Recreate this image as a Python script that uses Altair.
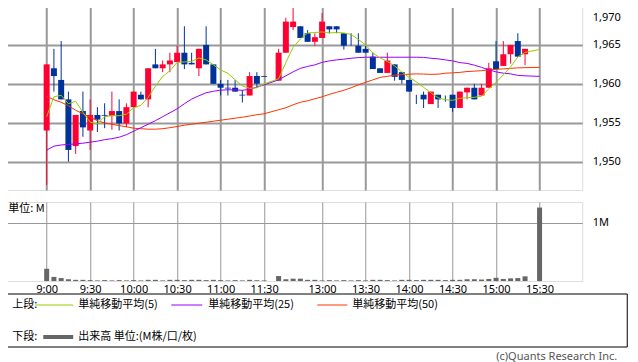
import altair as alt
import pandas as pd

# ---------------- data ----------------
times = [
    "9:00", "9:05", "9:10", "9:15", "9:20", "9:25", "9:30", "9:35", "9:40", "9:45",
    "9:50", "9:55", "10:00", "10:05", "10:10", "10:15", "10:20", "10:25", "10:30", "10:35",
    "10:40", "10:45", "10:50", "10:55", "11:00", "11:05", "11:10", "11:15", "11:20", "11:25",
    "11:30",
    "12:30", "12:35", "12:40", "12:45", "12:50", "12:55", "13:00", "13:05", "13:10", "13:15",
    "13:20", "13:25", "13:30", "13:35", "13:40", "13:45", "13:50", "13:55", "14:00", "14:05",
    "14:10", "14:15", "14:20", "14:25", "14:30", "14:35", "14:40", "14:45", "14:50", "14:55",
    "15:00", "15:05", "15:10", "15:15", "15:20", "15:30",
]
opens = [
    1954.0, 1962.0, 1960.5, 1958.0, 1952.0, 1956.5, 1954.0, 1956.0, 1956.0, 1955.9,
    1956.5, 1954.9, 1957.0, 1958.6, 1958.0, 1962.5, 1962.0, 1962.5, 1962.8, 1964.0,
    1962.7, 1962.0, 1965.0, 1962.5, 1960.0, 1959.5, 1959.5, 1958.6, 1958.5, 1961.0,
    1961.0,
    1960.4, 1964.0, 1967.3, 1967.4, 1966.5, 1965.4, 1965.9, 1967.4, 1967.4, 1966.5,
    1964.9, 1964.9, 1964.5, 1963.5, 1962.0, 1961.4, 1962.5, 1961.5, 1960.5, 1958.6,
    1958.6, 1957.4, 1958.6, 1958.2, 1958.6, 1956.9, 1958.9, 1959.5, 1958.5, 1959.5,
    1962.9, 1962.3, 1963.8, 1965.5, 1963.8, 1964.5,
]
highs = [
    1962.5, 1964.5, 1965.5, 1959.0, 1956.0, 1959.0, 1958.0, 1957.0, 1957.5, 1959.0,
    1958.0, 1957.5, 1959.0, 1959.0, 1962.0, 1964.5, 1963.0, 1964.0, 1964.9, 1967.4,
    1964.0, 1964.5, 1967.4, 1962.5, 1960.5, 1960.5, 1960.5, 1959.2, 1961.5, 1961.5,
    1961.0,
    1964.5, 1968.5, 1970.0, 1967.4, 1966.9, 1966.5, 1969.1, 1967.4, 1967.4, 1966.5,
    1966.5, 1966.5, 1964.9, 1964.0, 1962.0, 1964.0, 1962.5, 1961.5, 1960.5, 1958.6,
    1959.0, 1959.0, 1958.6, 1958.5, 1958.6, 1959.0, 1959.5, 1960.0, 1960.0, 1962.7,
    1965.5, 1965.5, 1965.0, 1966.5, 1964.5, 1964.5,
]
lows = [
    1947.0, 1959.0, 1958.0, 1950.0, 1951.0, 1953.2, 1951.5, 1953.8, 1954.3, 1954.1,
    1954.0, 1954.4, 1957.0, 1958.0, 1957.0, 1962.0, 1961.5, 1961.5, 1962.8, 1961.9,
    1962.5, 1961.0, 1962.5, 1960.0, 1958.5, 1958.5, 1959.0, 1957.6, 1958.5, 1959.5,
    1960.9,
    1960.4, 1964.0, 1966.9, 1965.9, 1965.4, 1964.9, 1965.9, 1966.5, 1966.5, 1964.4,
    1964.9, 1964.0, 1964.0, 1961.9, 1961.4, 1961.4, 1960.4, 1960.0, 1959.0, 1957.4,
    1956.9, 1957.4, 1956.9, 1957.7, 1956.4, 1956.9, 1958.0, 1958.0, 1958.5, 1959.5,
    1961.9, 1962.3, 1962.6, 1963.5, 1962.4, 1964.5,
]
closes = [
    1962.5, 1961.0, 1958.0, 1951.5, 1956.0, 1954.4, 1956.0, 1955.4, 1955.9, 1956.5,
    1954.9, 1957.0, 1959.0, 1958.0, 1962.0, 1962.0, 1962.5, 1963.0, 1964.0, 1962.5,
    1962.5, 1964.5, 1962.5, 1960.0, 1959.5, 1959.4, 1959.0, 1958.5, 1961.0, 1960.0,
    1960.9,
    1964.0, 1968.0, 1968.0, 1965.9, 1965.4, 1966.0, 1968.0, 1967.0, 1967.0, 1964.9,
    1964.9, 1964.0, 1964.0, 1961.9, 1961.4, 1963.0, 1960.9, 1960.5, 1959.0, 1958.6,
    1958.0, 1959.0, 1958.0, 1958.2, 1956.9, 1959.0, 1959.5, 1958.0, 1959.5, 1962.0,
    1961.9, 1963.8, 1965.0, 1963.5, 1964.5, 1964.5,
]
ma5 = [
    1955.77, 1958.33, 1958.53, 1957.44, 1957.76, 1956.35, 1955.06, 1954.87, 1955.77, 1955.90,
    1955.90, 1956.09, 1956.92, 1957.24, 1958.27, 1959.68, 1960.96, 1961.67, 1962.76, 1962.82,
    1962.88, 1963.33, 1963.08, 1962.44, 1961.79, 1961.35, 1960.51, 1959.74, 1959.42, 1959.49,
    1960.00,
    1960.64, 1962.76, 1964.68, 1965.77, 1966.54, 1966.60, 1966.67, 1966.54, 1966.60, 1966.54,
    1966.35, 1965.71, 1965.00, 1963.97, 1963.33, 1962.88, 1962.31, 1961.54, 1960.83, 1960.26,
    1959.55, 1958.85, 1958.21, 1957.95, 1957.88, 1958.14, 1958.21, 1958.27, 1958.40, 1959.36,
    1960.19, 1961.15, 1962.18, 1963.46, 1964.04, 1964.42,
]
ma25 = [
    1951.47, 1951.99, 1952.14, 1952.21, 1952.28, 1952.37, 1952.50, 1952.63, 1952.82, 1952.95,
    1953.14, 1953.46, 1953.91, 1954.36, 1954.81, 1955.26, 1955.77, 1956.28, 1956.79, 1957.44,
    1958.04, 1958.46, 1958.85, 1959.04, 1959.19, 1959.23, 1959.23, 1959.17, 1959.29, 1959.58,
    1959.87,
    1960.51, 1961.03, 1961.54, 1961.99, 1962.24, 1962.44, 1962.76, 1962.95, 1963.08, 1963.17,
    1963.29, 1963.37, 1963.42, 1963.42, 1963.42, 1963.42, 1963.42, 1963.42, 1963.42, 1963.42,
    1963.40, 1963.29, 1963.21, 1963.08, 1962.95, 1962.73, 1962.63, 1962.40, 1962.12, 1961.79,
    1961.54, 1961.37, 1961.28, 1961.09, 1961.03, 1960.96,
]
ma50 = [
    1958.40, 1957.95, 1957.63, 1957.18, 1956.60, 1956.15, 1955.71, 1955.26, 1954.96, 1954.81,
    1954.62, 1954.49, 1954.29, 1954.23, 1954.17, 1954.17, 1954.23, 1954.36, 1954.51, 1954.68,
    1954.81, 1954.94, 1955.06, 1955.19, 1955.32, 1955.45, 1955.58, 1955.71, 1955.86, 1956.03,
    1956.15,
    1956.67, 1956.92, 1957.31, 1957.63, 1957.82, 1958.08, 1958.33, 1958.65, 1958.91, 1959.17,
    1959.49, 1959.87, 1960.19, 1960.51, 1960.83, 1960.96, 1961.12, 1961.18, 1961.24, 1961.28,
    1961.26, 1961.22, 1961.24, 1961.37, 1961.41, 1961.47, 1961.58, 1961.63, 1961.69, 1961.79,
    1961.86, 1961.92, 1961.99, 1962.05, 1962.08, 1962.12,
]
volumes = [  # millions
    0.21, 0.07, 0.05, 0.03, 0.02, 0.02, 0.015, 0.01, 0.015, 0.01,
    0.015, 0.01, 0.015, 0.01, 0.02, 0.02, 0.01, 0.02, 0.02, 0.015,
    0.02, 0.02, 0.015, 0.02, 0.015, 0.01, 0.015, 0.01, 0.02, 0.015,
    0.01,
    0.085, 0.03, 0.04, 0.04, 0.02, 0.02, 0.01, 0.015, 0.01, 0.015,
    0.01, 0.015, 0.01, 0.02, 0.02, 0.015, 0.01, 0.02, 0.02, 0.015,
    0.02, 0.02, 0.02, 0.015, 0.02, 0.02, 0.03, 0.03, 0.025, 0.035,
    0.055, 0.035, 0.045, 0.05, 0.08, 1.26,
]
tick_times = ["9:00", "9:30", "10:00", "10:30", "11:00", "11:30",
              "13:00", "13:30", "14:00", "14:30", "15:00", "15:30"]
price_ticks = [1950, 1955, 1960, 1965, 1970]
volume_ticks = [1]
volume_tick_labels = ["1M"]

legend_upper = ["単純移動平均(5)", "単純移動平均(25)", "単純移動平均(50)"]
legend_lower = "出来高 単位:(M株/口/枚)"

# ---------------- styling ----------------
RED = "#ff0033"
BLUE = "#003399"
GREEN = "#99cc00"
PURPLE = "#9900ff"
ORANGE = "#ff3300"
VOLGRAY = "#666666"
GRID = "#999999"
JP = "Noto Sans CJK JP"
NUM = "Noto Sans"


def slot_of(t):
    h, m = map(int, t.split(":"))
    mins = h * 60 + m
    if mins <= 11 * 60 + 30:
        return (mins - 9 * 60) // 5
    return 32 + (mins - (12 * 60 + 30)) // 5


df = pd.DataFrame({
    "time": times, "open": opens, "high": highs, "low": lows, "close": closes,
    "ma5": ma5, "ma25": ma25, "ma50": ma50, "volume": volumes,
})
df["slot"] = [slot_of(t) for t in times]
df["dir"] = ["up" if c > o else "down" for o, c in zip(opens, closes)]

tick_slots = [slot_of(t) for t in tick_times]
x_label_expr = ("[" + ",".join("'%s'" % t for t in tick_times) + "][indexof(["
                + ",".join(str(s) for s in tick_slots) + "], datum.value)]")
v_label_expr = ("[" + ",".join("'%s'" % t for t in volume_tick_labels) + "][indexof(["
                + ",".join(str(s) for s in volume_ticks) + "], datum.value)]")

x_scale = alt.Scale(domain=[-5.3, 73.2], nice=False, zero=False)
price_scale = alt.Scale(domain=[1946.35, 1970.65], nice=False, zero=False)
vol_scale = alt.Scale(domain=[0, 1.355], nice=False, zero=True)
dir_color = alt.Color("dir:N", scale=alt.Scale(domain=["up", "down"], range=[RED, BLUE]),
                      legend=None)

top_test = "datum.value == %d" % price_ticks[-1]
price_x_axis = alt.Axis(values=tick_slots, labels=False, ticks=False, domain=False,
                        grid=True, gridColor=GRID, gridWidth=2, title=None)
price_y_axis = alt.Axis(orient="right", values=price_ticks, format=",", ticks=False,
                        domain=False, grid=True, gridColor=GRID, gridWidth=2,
                        gridOpacity={"condition": {"test": top_test, "value": 0}, "value": 1},
                        labelOffset={"condition": {"test": top_test, "value": 11}, "value": 0},
                        labelPadding=10, labelFont=NUM, labelFontSize=11,
                        labelColor="#000", title=None)

base = alt.Chart(df)
wicks = base.mark_rule(strokeWidth=1).encode(
    x=alt.X("slot:Q", scale=x_scale, axis=price_x_axis),
    y=alt.Y("low:Q", scale=price_scale, axis=price_y_axis),
    y2="high:Q",
    color=dir_color,
)
bodies = base.mark_bar(size=6, minBandSize=1).encode(
    x="slot:Q", y="open:Q", y2="close:Q", color=dir_color,
)
line50 = base.mark_line(color=ORANGE, strokeWidth=1).encode(x="slot:Q", y="ma50:Q")
line25 = base.mark_line(color=PURPLE, strokeWidth=1).encode(x="slot:Q", y="ma25:Q")
line5 = base.mark_line(color=GREEN, strokeWidth=1).encode(x="slot:Q", y="ma5:Q")

price = alt.layer(wicks, bodies, line50, line25, line5).properties(width=579, height=189)

# ---------------- volume panel + legend ----------------
vol_x_axis = alt.Axis(values=tick_slots, labelExpr=x_label_expr, ticks=False, domain=False,
                      grid=True, gridColor=GRID, gridWidth=1, labelPadding=2,
                      labelFont=NUM, labelFontSize=11, labelColor="#000", title=None)
vol_y_axis = alt.Axis(orient="right", values=volume_ticks, labelExpr=v_label_expr,
                      ticks=False, domain=False, grid=True, gridColor=GRID, gridWidth=1,
                      labelPadding=10, labelFont=NUM, labelFontSize=11, labelColor="#000",
                      title=None)

vol_bars = alt.Chart(df).mark_bar(size=5, color=VOLGRAY).encode(
    x=alt.X("slot:Q", scale=x_scale, axis=vol_x_axis),
    y=alt.Y("volume:Q", scale=vol_scale, axis=vol_y_axis),
)

one = pd.DataFrame({"k": [0]})


def txt(s, x, y, align="left", color="#000", size=11, font=JP):
    return alt.Chart(one).mark_text(align=align, baseline="middle", font=font,
                                    fontSize=size, color=color).encode(
        x=alt.value(x), y=alt.value(y), text=alt.value(s))


def seg(x1, x2, y, color, width):
    return alt.Chart(one).mark_rule(color=color, strokeWidth=width).encode(
        x=alt.value(x1), x2=alt.value(x2), y=alt.value(y))


unit_label = txt("単位: M", 5, 7)
box = alt.Chart(one).mark_rect(fill="transparent", stroke="#000", strokeWidth=1).encode(
    x=alt.value(0.5), x2=alt.value(624), y=alt.value(92), y2=alt.value(145))

legend_layers = [
    box,
    txt("上段:", 9, 103),
    seg(32, 70, 103, GREEN, 1), txt(legend_upper[0], 75, 103),
    seg(168, 199, 103, PURPLE, 1), txt(legend_upper[1], 205, 103),
    seg(314, 344, 103, ORANGE, 1), txt(legend_upper[2], 349, 103),
    txt("下段:", 9, 135),
    seg(40, 70, 135, VOLGRAY, 4), txt(legend_lower, 75, 135),
    txt("(c)Quants Research Inc.", 614, 154.5, align="right", color="#555555", size=11,
        font=NUM),
]

volume = alt.layer(vol_bars, unit_label, *legend_layers).properties(width=579, height=79)

chart = alt.vconcat(price, volume, spacing=10).properties(
    padding={"left": -5.75, "top": -8, "right": 0, "bottom": 0}
).configure_view(stroke=GRID, strokeWidth=1.5).configure(background="white")

chart.save("out.html", embed_options={"renderer": "svg", "actions": False})
